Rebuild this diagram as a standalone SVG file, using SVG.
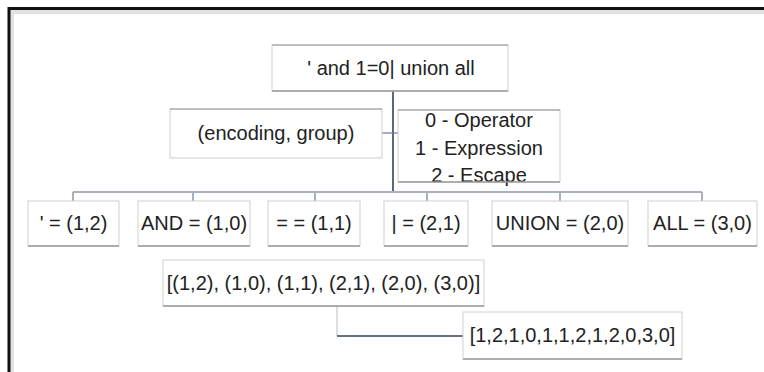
<svg xmlns="http://www.w3.org/2000/svg" width="764" height="372" viewBox="0 0 764 372">
<style>
text{font-family:"Liberation Sans",Arial,sans-serif;font-size:20px;fill:#222;text-anchor:middle;dominant-baseline:central}
.box{fill:#fff;stroke:#cfcfcf;stroke-width:1}
.shadow{stroke:#9a9a9a;stroke-width:1.5}
.top{stroke:#b0b0b0;stroke-width:1.5}
.dark{stroke:#34405e;stroke-width:1.6;fill:none}
.light{stroke:#a8b0bd;stroke-width:2;fill:none}
</style>
<rect width="764" height="372" fill="#fff"/>
<g id="frame">
<path d="M12,375 V12 H767" stroke="#e2e2e2" stroke-width="4" fill="none"/>
<path d="M9,375 V8.5 H767" stroke="#111" stroke-width="3" fill="none"/>
</g>
<g id="connectors">
<line class="dark" x1="393" y1="91" x2="393" y2="192"/>
<line x1="382" y1="133" x2="398" y2="133" stroke="#6a7896" stroke-width="1.2"/>
<line class="light" x1="73" y1="192" x2="702" y2="192"/>
<line class="light" x1="73" y1="192" x2="73" y2="201" stroke-width="1.5"/>
<line class="light" x1="193" y1="192" x2="193" y2="201" stroke-width="1.5"/>
<line class="light" x1="315" y1="192" x2="315" y2="201" stroke-width="1.5"/>
<line class="light" x1="427" y1="192" x2="427" y2="201" stroke-width="1.5"/>
<line class="light" x1="560" y1="192" x2="560" y2="201" stroke-width="1.5"/>
<line class="light" x1="702" y1="192" x2="702" y2="201" stroke-width="1.5"/>
<line x1="337" y1="306" x2="337" y2="336" stroke="#c4c8d0" stroke-width="1.2"/>
<line class="dark" x1="337" y1="336" x2="463" y2="336"/>
</g>
<g id="root">
<rect class="box" x="272" y="45" width="236" height="46" stroke="#ececec"/>
<line class="top" x1="272" y1="45" x2="508" y2="45"/>
<line class="shadow" x1="272" y1="91" x2="508" y2="91"/>
<text x="391" y="68">' and 1=0| union all</text>
</g>
<g id="encoding">
<rect class="box" x="170" y="109" width="212" height="49" stroke="#e6e6e6"/>
<line class="top" x1="170" y1="109" x2="382" y2="109"/>
<text x="276" y="133">(encoding, group)</text>
</g>
<g id="legend">
<rect class="box" x="398" y="110" width="162" height="72" stroke="#dcdcdc"/>
<line class="top" x1="398" y1="110" x2="560" y2="110"/>
<text x="479" y="120">0 - Operator</text>
<text x="479" y="148">1 - Expression</text>
<text x="479" y="175">2 - Escape</text>
<line class="shadow" x1="398" y1="182" x2="560" y2="182" stroke-width="1"/>
</g>
<g id="n1">
<rect class="box" x="28" y="201" width="91" height="45"/>
<line class="shadow" x1="28" y1="246" x2="119" y2="246" stroke-width="1"/>
<text x="73.5" y="223">' = (1,2)</text>
</g>
<g id="n2">
<rect class="box" x="138" y="201" width="112" height="45"/>
<line class="shadow" x1="138" y1="246" x2="250" y2="246" stroke-width="1"/>
<text x="194" y="223">AND = (1,0)</text>
</g>
<g id="n3">
<rect class="box" x="268" y="201" width="92" height="45"/>
<line class="shadow" x1="268" y1="246" x2="360" y2="246" stroke-width="1"/>
<text x="314" y="223">= = (1,1)</text>
</g>
<g id="n4">
<rect class="box" x="384" y="201" width="84" height="45"/>
<line class="shadow" x1="384" y1="246" x2="468" y2="246" stroke-width="1"/>
<text x="426" y="223">| = (2,1)</text>
</g>
<g id="n5">
<rect class="box" x="492" y="201" width="136" height="45"/>
<line class="shadow" x1="492" y1="246" x2="628" y2="246" stroke-width="1"/>
<text x="560" y="223">UNION = (2,0)</text>
</g>
<g id="n6">
<rect class="box" x="648" y="201" width="109" height="45"/>
<line class="shadow" x1="648" y1="246" x2="757" y2="246" stroke-width="1"/>
<text x="702.5" y="223">ALL = (3,0)</text>
</g>
<g id="pairs">
<rect class="box" x="163" y="260" width="321" height="46" stroke="#c8c8c8"/>
<line class="shadow" x1="163" y1="306" x2="484" y2="306"/>
<text x="323.5" y="283">[(1,2), (1,0), (1,1), (2,1), (2,0), (3,0)]</text>
</g>
<g id="flat">
<rect class="box" x="463" y="312" width="219" height="47" stroke="#c8c8c8"/>
<line class="shadow" x1="463" y1="359" x2="682" y2="359"/>
<text x="572.5" y="335">[1,2,1,0,1,1,2,1,2,0,3,0]</text>
</g>
</svg>
